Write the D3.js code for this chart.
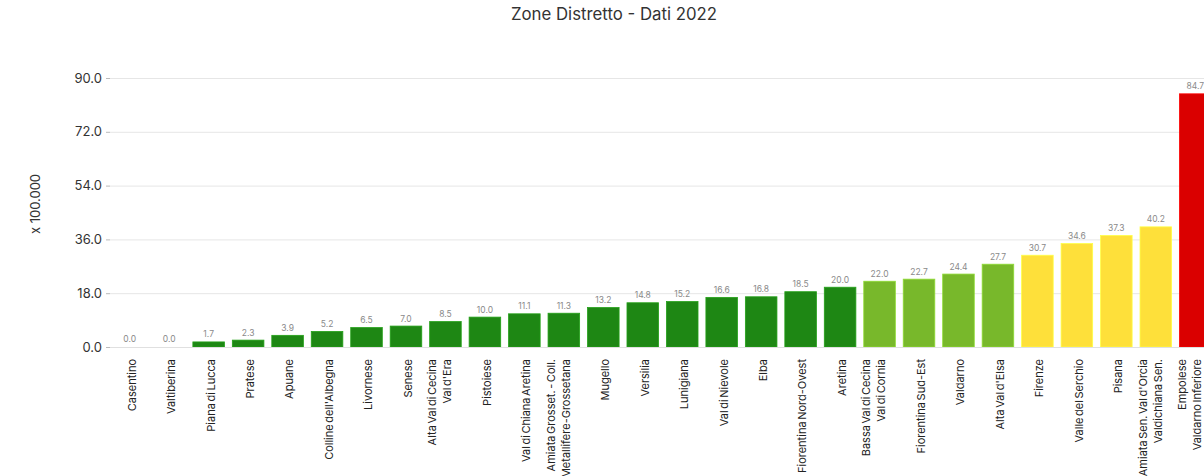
<!DOCTYPE html>
<html>
<head>
<meta charset="utf-8">
<script src="https://cdn.jsdelivr.net/npm/d3@7"></script>
<style>
  html, body { margin: 0; padding: 0; background: #fff; overflow: hidden; }
  svg { display: block; font-family: Inter, "Open Sans", sans-serif; }
</style>
</head>
<body>
<svg id="chart" width="1204" height="476"></svg>
<script>
// Zone distretto, sorted by value (units of 100.000)
const zones = [
  "Casentino", "Valtiberina", "Piana di Lucca", "Pratese", "Apuane",
  "Colline dell'Albegna", "Livornese", "Senese", "Alta Val di Cecina\nVal d'Era",
  "Pistoiese", "Val di Chiana Aretina", "Amiata Grosset. - Coll.\nMetallifere-Grossetana",
  "Mugello", "Versilia", "Lunigiana", "Val di Nievole", "Elba", "Fiorentina Nord-Ovest",
  "Aretina", "Bassa Val di Cecina\nVal di Cornia", "Fiorentina Sud-Est", "Valdarno",
  "Alta Val d'Elsa", "Firenze", "Valle del Serchio", "Pisana",
  "Amiata Sen. Val d'Orcia\nValdichiana Sen.", "Empolese\nValdarno Inferiore"
];
const values = [
  0.0, 0.0, 1.7, 2.3, 3.9, 5.2, 6.5, 7.0, 8.5, 10.0, 11.1, 11.3, 13.2, 14.8,
  15.2, 16.6, 16.8, 18.5, 20.0, 22.0, 22.7, 24.4, 27.7, 30.7, 34.6, 37.3, 40.2, 84.7
];
const yTicks = [0, 18, 36, 54, 72, 90];
const classBreaks = [21, 30, 50];

const title = "Zone Distretto - Dati 2022";
const yTitle = "x 100.000";

const svg = d3.select("#chart");
const W = 1204, H = 476;
const margin = { left: 110, top: 78, bottom: 347 };
const plotRight = 1215;

const x = d3.scaleBand()
  .domain(zones)
  .range([margin.left, plotRight])
  .paddingInner(0.2)
  .paddingOuter(0.1);

const y = d3.scaleLinear()
  .domain([0, 90])
  .range([margin.bottom, margin.top]);

const color = d3.scaleThreshold()
  .domain(classBreaks)
  .range(["#1e8714", "#78b82b", "#fee03a", "#da0000"]);

// title
svg.append("text")
  .attr("x", 614).attr("y", 20)
  .attr("text-anchor", "middle")
  .attr("font-size", 16.8)
  .attr("fill", "#333")
  .text(title);

// y axis title
svg.append("text")
  .attr("transform", `translate(35,204) rotate(-90)`)
  .attr("text-anchor", "middle")
  .attr("dy", "0.35em")
  .attr("font-size", 13)
  .attr("fill", "#333")
  .text(yTitle);

// grid lines
svg.append("g")
  .selectAll("line")
  .data(yTicks)
  .join("line")
  .attr("x1", margin.left).attr("x2", W)
  .attr("y1", d => y(d) + 0.5).attr("y2", d => y(d) + 0.5)
  .attr("stroke", "#e6e6e6")
  .attr("stroke-width", 1);

// y axis
const yAxis = svg.append("g")
  .attr("transform", `translate(${margin.left},0)`)
  .call(d3.axisLeft(y).tickValues(yTicks).tickFormat(d3.format(".1f")).tickSize(4).tickPadding(4));
yAxis.select(".domain").remove();
yAxis.selectAll(".tick line").attr("stroke", "#bbb");
yAxis.selectAll(".tick text")
  .attr("font-size", 13)
  .attr("font-family", "Inter, sans-serif")
  .attr("fill", "#333");

// bars
svg.append("g")
  .selectAll("rect")
  .data(zones)
  .join("rect")
  .attr("x", d => x(d))
  .attr("width", x.bandwidth())
  .attr("y", (d, i) => y(values[i]))
  .attr("height", (d, i) => y(0) - y(values[i]))
  .attr("fill", (d, i) => color(values[i]))
  .attr("stroke", (d, i) => d3.color(color(values[i])).brighter(0.5))
  .attr("stroke-width", 0.8);

// value labels
svg.append("g")
  .selectAll("text")
  .data(zones)
  .join("text")
  .attr("x", d => x(d) + x.bandwidth() / 2)
  .attr("y", (d, i) => y(values[i]) - 7.5)
  .attr("dy", "0.35em")
  .attr("text-anchor", "middle")
  .attr("font-size", 8.5)
  .attr("fill", "#8a8a8a")
  .text((d, i) => d3.format(".1f")(values[i]));

// x axis baseline
svg.append("line")
  .attr("x1", margin.left).attr("x2", W)
  .attr("y1", y(0) + 0.5).attr("y2", y(0) + 0.5)
  .attr("stroke", "#e0e0e0");

// x labels, rotated, multi-line
const xl = svg.append("g")
  .selectAll("g")
  .data(zones)
  .join("g")
  .attr("transform", d => `translate(${x(d) + x.bandwidth() / 2 + 2},359) rotate(-90)`);

xl.each(function(d) {
  const lines = d.split("\n");
  const n = lines.length;
  d3.select(this).selectAll("text")
    .data(lines)
    .join("text")
    .attr("x", 0)
    .attr("y", (l, j) => (j - (n - 1)) * 15)
    .attr("dy", "0.35em")
    .attr("text-anchor", "end")
    .attr("font-size", 11)
    .attr("word-spacing", "-1.5px")
    .attr("fill", "#222")
    .text(l => l);
});
</script>
</body>
</html>
